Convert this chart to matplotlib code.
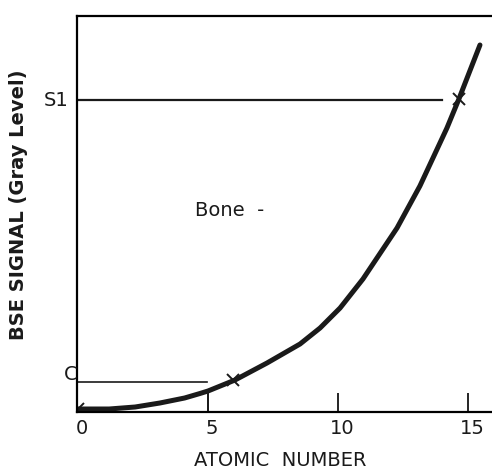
import numpy as np
import matplotlib.pyplot as plt

# curve (atomic number vs gray level, arbitrary units)
z = [0.0, 1.2, 2.2, 3.15, 4.1, 4.69, 5.0, 6.04, 7.27, 8.54, 9.31, 10.08, 10.96, 12.27, 13.15, 14.19, 14.65, 15.46]
s = [3, 3, 5, 9, 14, 18.5, 21, 32, 49, 68, 84, 104, 133, 184, 226, 284, 313, 367]

# measured points marked with x
z_mark = [0.0, 5.96, 14.65]
s_mark = [3, 32, 313]

# threshold levels
S1 = 312
C = 30
z_S1 = 14.0   # end of the S1 line
z_C = 4.96    # end of the C line
z_drop = 5.0
s_drop = 21

x_ticks = [5, 10, 15]

plt.rcParams.update({"font.family": "DejaVu Sans"})

fig = plt.figure(figsize=(4.92, 4.71), dpi=100)
ax = fig.add_axes([77 / 492, 59 / 471, 1 - 77 / 492, 396 / 471])
ax.set_xlim(-1 / 26, 414 / 26)
ax.set_ylim(0, 396)

for sp in ["left", "top", "bottom"]:
    ax.spines[sp].set_linewidth(1.6)
ax.spines["right"].set_visible(False)

ax.plot(z, s, color="#1a1a1a", lw=3.6, solid_capstyle="round",
        solid_joinstyle="round")
ax.plot(z_mark, s_mark, "x", color="#1a1a1a", ms=8, mew=1.4)

ax.plot([0, z_S1], [S1, S1], color="#1a1a1a", lw=1.6)
ax.plot([0, z_C], [C, C], color="#1a1a1a", lw=1.2)
ax.plot([z_drop, z_drop], [0, s_drop], color="#1a1a1a", lw=1.2)

ax.set_xticks(x_ticks)
ax.set_xticklabels([])
ax.tick_params(axis="x", direction="in", length=14, width=1.2)
for t in [0] + x_ticks:
    ax.text(t + 0.15, -17, str(t), ha="center", va="center", fontsize=14,
            color="#1a1a1a")

ax.set_yticks([])
ax.text(-0.85, S1, "S1", ha="center", va="center", fontsize=14, color="#1a1a1a")
ax.text(-0.3, C + 7, "C", ha="center", va="center", fontsize=14, color="#1a1a1a")

ax.text(4.5, 201, "Bone  -", ha="left", va="center", fontsize=14, color="#1a1a1a")

ax.text((280 - 77) / 415, (412 - 460) / 396, "ATOMIC  NUMBER", transform=ax.transAxes,
        ha="center", va="center", fontsize=14, color="#1a1a1a")
ax.text((19 - 77) / 415, (412 - 205) / 396, "BSE SIGNAL (Gray Level)",
        transform=ax.transAxes, rotation=90, ha="center", va="center",
        fontsize=14, fontweight="bold", color="#1a1a1a")

fig.savefig("out.png", dpi=100)
